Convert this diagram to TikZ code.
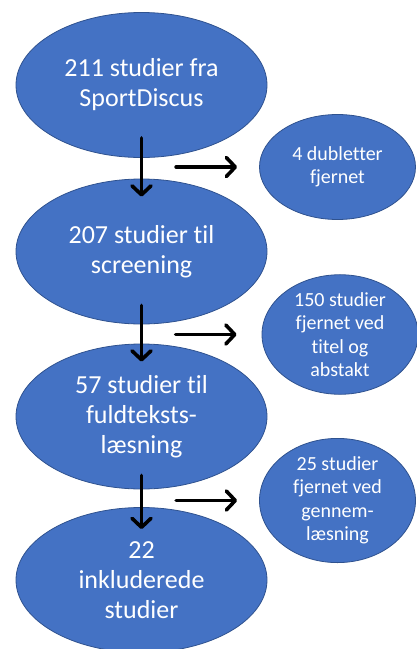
\documentclass[tikz,border=0pt]{standalone}
\usepackage{fontspec}
\setmainfont[Ligatures={NoCommon}]{Carlito}
\usepackage{tikz}
\usetikzlibrary{arrows.meta,positioning,shapes.geometric}
\definecolor{oblue}{HTML}{4472C4}
\definecolor{oblued}{HTML}{2F528F}
\tikzset{
  % Office-blue ellipse with white text.
  stage/.style   = {ellipse, draw=oblued, fill=oblue, line width=0.8pt, text=white,
                    align=center, inner sep=0pt, minimum width=251pt, minimum height=145pt,
                    font=\fontsize{26}{30}\selectfont},
  removed/.style = {ellipse, draw=oblued, fill=oblue, line width=0.8pt, text=white,
                    align=center, inner sep=0pt, minimum width=156pt, minimum height=105pt,
                    font=\fontsize{20}{23.5}\selectfont},
  arr/.style     = {-{Straight Barb[length=9pt,width=19pt,round]}, line width=3.6pt,
                    line cap=round, black},
}
\begin{document}
\begin{tikzpicture}[x=1pt,y=-1pt]
\useasboundingbox (0,0) rectangle (417,649);
\node[stage] (s1) at (141.5,85)    {211 studier fra\\SportDiscus};
\node[stage] (s2) at (141.5,251.5) {207 studier til\\screening};
\node[stage] (s3) at (141.5,416.5) {57 studier til\\fuldteksts-\\læsning};
\node[stage] (s4) at (141.5,580)   {22\\inkluderede\\studier};
\node[removed] (r1) at (337.5,167)   {4 dubletter\\fjernet};
\node[removed] (r2) at (340,334.5)   {150 studier\\fjernet ved\\titel og\\abstakt};
\node[removed] (r3) at (337.5,500.5) {25 studier\\fjernet ved\\gennem-\\læsning};
% downward flow
\draw[arr] ([yshift=20pt]s1.south) -- ([yshift=-18pt]s2.north);
\draw[arr] ([yshift=19pt]s2.south) -- ([yshift=-18pt]s3.north);
\draw[arr] ([yshift=14pt]s3.south) -- ([yshift=-22pt]s4.north);
% excluded studies
\draw[arr] ([xshift=-83pt]r1.west) -- ([xshift=-22pt]r1.west);
\draw[arr] ([xshift=-86pt]r2.west) -- ([xshift=-25pt]r2.west);
\draw[arr] ([xshift=-83pt]r3.west) -- ([xshift=-22pt]r3.west);
\end{tikzpicture}
\end{document}
